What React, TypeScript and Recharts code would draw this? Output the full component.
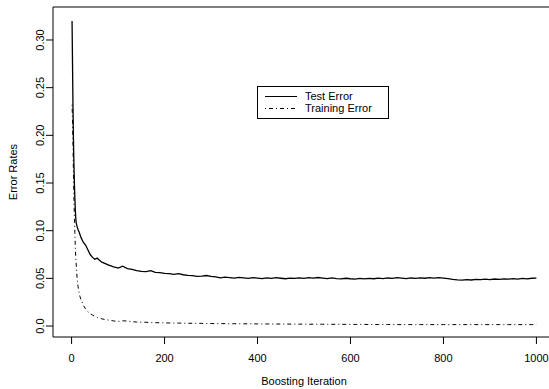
import { LineChart, Line, XAxis, YAxis, ReferenceArea, Legend } from 'recharts';

// boosting iterations at which the errors are sampled
const iterations = [
  1, 2, 3, 4, 5, 6, 7, 8, 9, 10, 12, 14, 16, 18,
  20, 25, 30, 35, 40, 45, 50, 55, 60, 65, 70, 75, 80, 85, 90, 95,
  100, 110, 120, 130, 140, 150, 160, 170, 180, 190,
  200, 210, 220, 230, 240, 250, 260, 270, 280, 290,
  300, 310, 320, 330, 340, 350, 360, 370, 380, 390,
  400, 410, 420, 430, 440, 450, 460, 470, 480, 490,
  500, 510, 520, 530, 540, 550, 560, 570, 580, 590,
  600, 610, 620, 630, 640, 650, 660, 670, 680, 690,
  700, 710, 720, 730, 740, 750, 760, 770, 780, 790,
  800, 810, 820, 830, 840, 850, 860, 870, 880, 890,
  900, 910, 920, 930, 940, 950, 960, 970, 980, 990, 1000,
];

const testError = [
  0.320, 0.275, 0.230, 0.195, 0.170, 0.150, 0.135, 0.122, 0.113, 0.108, 0.104, 0.101, 0.099, 0.096,
  0.093, 0.088, 0.085, 0.080, 0.075, 0.072, 0.070, 0.0712, 0.069, 0.067, 0.066, 0.065, 0.0638, 0.063, 0.062, 0.0615,
  0.0608, 0.0628, 0.0602, 0.0594, 0.0582, 0.0573, 0.0571, 0.0580, 0.0562, 0.0560,
  0.0552, 0.0550, 0.0541, 0.0549, 0.0538, 0.0532, 0.0529, 0.0520, 0.0524, 0.0530,
  0.0521, 0.0515, 0.0505, 0.0512, 0.0508, 0.0502, 0.0510, 0.0506, 0.0500, 0.0508,
  0.0503, 0.0498, 0.0505, 0.0500, 0.0507, 0.0501, 0.0496, 0.0503, 0.0499, 0.0506,
  0.0500, 0.0508, 0.0502, 0.0509, 0.0503, 0.0497, 0.0504, 0.0498, 0.0494, 0.0501,
  0.0496, 0.0493, 0.0499, 0.0495, 0.0500, 0.0496, 0.0502, 0.0498, 0.0504, 0.0500,
  0.0507, 0.0502, 0.0498, 0.0504, 0.0499, 0.0505, 0.0501, 0.0507, 0.0503, 0.0508,
  0.0502, 0.0497, 0.0490, 0.0485, 0.0482, 0.0486, 0.0483, 0.0489, 0.0486, 0.0491,
  0.0487, 0.0493, 0.0489, 0.0495, 0.0491, 0.0497, 0.0493, 0.0499, 0.0495, 0.0501, 0.0503,
];

const trainError = [
  0.232, 0.215, 0.190, 0.160, 0.135, 0.115, 0.098, 0.083, 0.072, 0.064, 0.049, 0.041, 0.035, 0.031,
  0.028, 0.022, 0.018, 0.015, 0.013, 0.0115, 0.010, 0.0090, 0.0082, 0.0076, 0.0070, 0.0066, 0.0062, 0.0058, 0.0054, 0.0050,
  0.0048, 0.0055, 0.0052, 0.0045, 0.0042, 0.0040, 0.0040, 0.0036, 0.0035, 0.0034,
  0.0033, 0.0032, 0.0031, 0.0031, 0.0030, 0.0029, 0.0029, 0.0028, 0.0028, 0.0027,
  0.0026, 0.0026, 0.0025, 0.0025, 0.0024, 0.0024, 0.0024, 0.0023, 0.0023, 0.0023,
  0.0022, 0.0022, 0.0022, 0.0021, 0.0021, 0.0021, 0.0021, 0.0020, 0.0020, 0.0020,
  0.0020, 0.0019, 0.0019, 0.0019, 0.0019, 0.0018, 0.0018, 0.0018, 0.0018, 0.0017,
  0.0017, 0.0017, 0.0017, 0.0017, 0.0016, 0.0016, 0.0016, 0.0016, 0.0016, 0.0016,
  0.0015, 0.0015, 0.0015, 0.0015, 0.0015, 0.0015, 0.0015, 0.0015, 0.0015, 0.0015,
  0.0015, 0.0015, 0.0015, 0.0015, 0.0015, 0.0015, 0.0015, 0.0015, 0.0015, 0.0015,
  0.0015, 0.0015, 0.0015, 0.0015, 0.0015, 0.0015, 0.0015, 0.0015, 0.0015, 0.0015, 0.0015,
];

const xTicks = [0, 200, 400, 600, 800, 1000];
const yTicks = [0, 0.05, 0.1, 0.15, 0.2, 0.25, 0.3];
const yTickLabels = ['0.0', '0.05', '0.10', '0.15', '0.20', '0.25', '0.30'];

const data = iterations.map((iter, i) => ({ iter, test: testError[i], train: trainError[i] }));

const FONT = '"Liberation Sans", Arial, sans-serif';
const X_DOMAIN: [number, number] = [-40, 1040];
const Y_DOMAIN: [number, number] = [-0.0115, 0.3346];

function XTick({ x, payload }: any) {
  return (
    <text x={x} y={362} textAnchor="middle" fontSize={11} fontFamily={FONT} fill="#000">
      {payload.value}
    </text>
  );
}

function YTick({ y, payload }: any) {
  const idx = yTicks.indexOf(payload.value);
  return (
    <text transform={`translate(43.5, ${y}) rotate(-90)`} textAnchor="middle" fontSize={11} fontFamily={FONT} fill="#000">
      {idx >= 0 ? yTickLabels[idx] : payload.value}
    </text>
  );
}

function YTitle({ viewBox }: any) {
  const cy = viewBox ? viewBox.y + viewBox.height / 2 : 172;
  return (
    <text transform={`translate(16.5, ${cy}) rotate(-90)`} textAnchor="middle" fontSize={11} fontFamily={FONT} fill="#000">
      Error Rates
    </text>
  );
}

// R style boxed legend
function LegendBox({ payload }: any) {
  return (
    <div style={{ width: 123, border: '1px solid #000', background: '#fff', padding: '4px 0 4px 7px', fontFamily: FONT, fontSize: 11, lineHeight: '11.5px' }}>
      {(payload || []).map((entry: any) => (
        <div key={entry.value} style={{ display: 'flex', alignItems: 'center' }}>
          <svg width={32} height={11} style={{ marginRight: 8 }}>
            <line x1={0} x2={32} y1={5.5} y2={5.5} stroke="#000" strokeWidth={1}
              strokeDasharray={entry.dataKey === 'train' ? '1 3 4 3' : undefined} />
          </svg>
          <span>{entry.value}</span>
        </div>
      ))}
    </div>
  );
}

export default function App() {
  return (
    <div style={{ position: 'absolute', left: 0, top: 0, width: 549, height: 389, overflow: 'hidden', background: '#fff' }}>
      <LineChart width={560} height={389} data={data} margin={{ top: 7, right: 5, bottom: 0, left: 0 }}>
        <XAxis
          dataKey="iter"
          type="number"
          domain={X_DOMAIN}
          ticks={xTicks}
          allowDataOverflow
          height={52}
          axisLine={false}
          tickLine={{ stroke: '#000' }}
          tickSize={7}
          tick={<XTick />}
          label={{ value: 'Boosting Iteration', position: 'insideBottom', offset: 4, fontSize: 11, fontFamily: FONT, fill: '#000' }}
        />
        <YAxis
          type="number"
          domain={Y_DOMAIN}
          ticks={yTicks}
          allowDataOverflow
          width={53}
          axisLine={false}
          tickLine={{ stroke: '#000' }}
          tickSize={7}
          tick={<YTick />}
          label={<YTitle />}
        />
        <ReferenceArea x1={X_DOMAIN[0]} x2={X_DOMAIN[1]} y1={Y_DOMAIN[0]} y2={Y_DOMAIN[1]} fill="none" stroke="#000" strokeWidth={1} />
        <Legend
          layout="vertical"
          align="center"
          verticalAlign="middle"
          content={<LegendBox />}
          wrapperStyle={{ left: 257, top: 86, width: 'auto' }}
        />
        <Line type="linear" dataKey="test" name="Test Error" stroke="#000" strokeWidth={1.3} dot={false} isAnimationActive={false} />
        <Line type="linear" dataKey="train" name="Training Error" stroke="#000" strokeWidth={1} strokeDasharray="1 3 4 3" dot={false} isAnimationActive={false} />
      </LineChart>
    </div>
  );
}
